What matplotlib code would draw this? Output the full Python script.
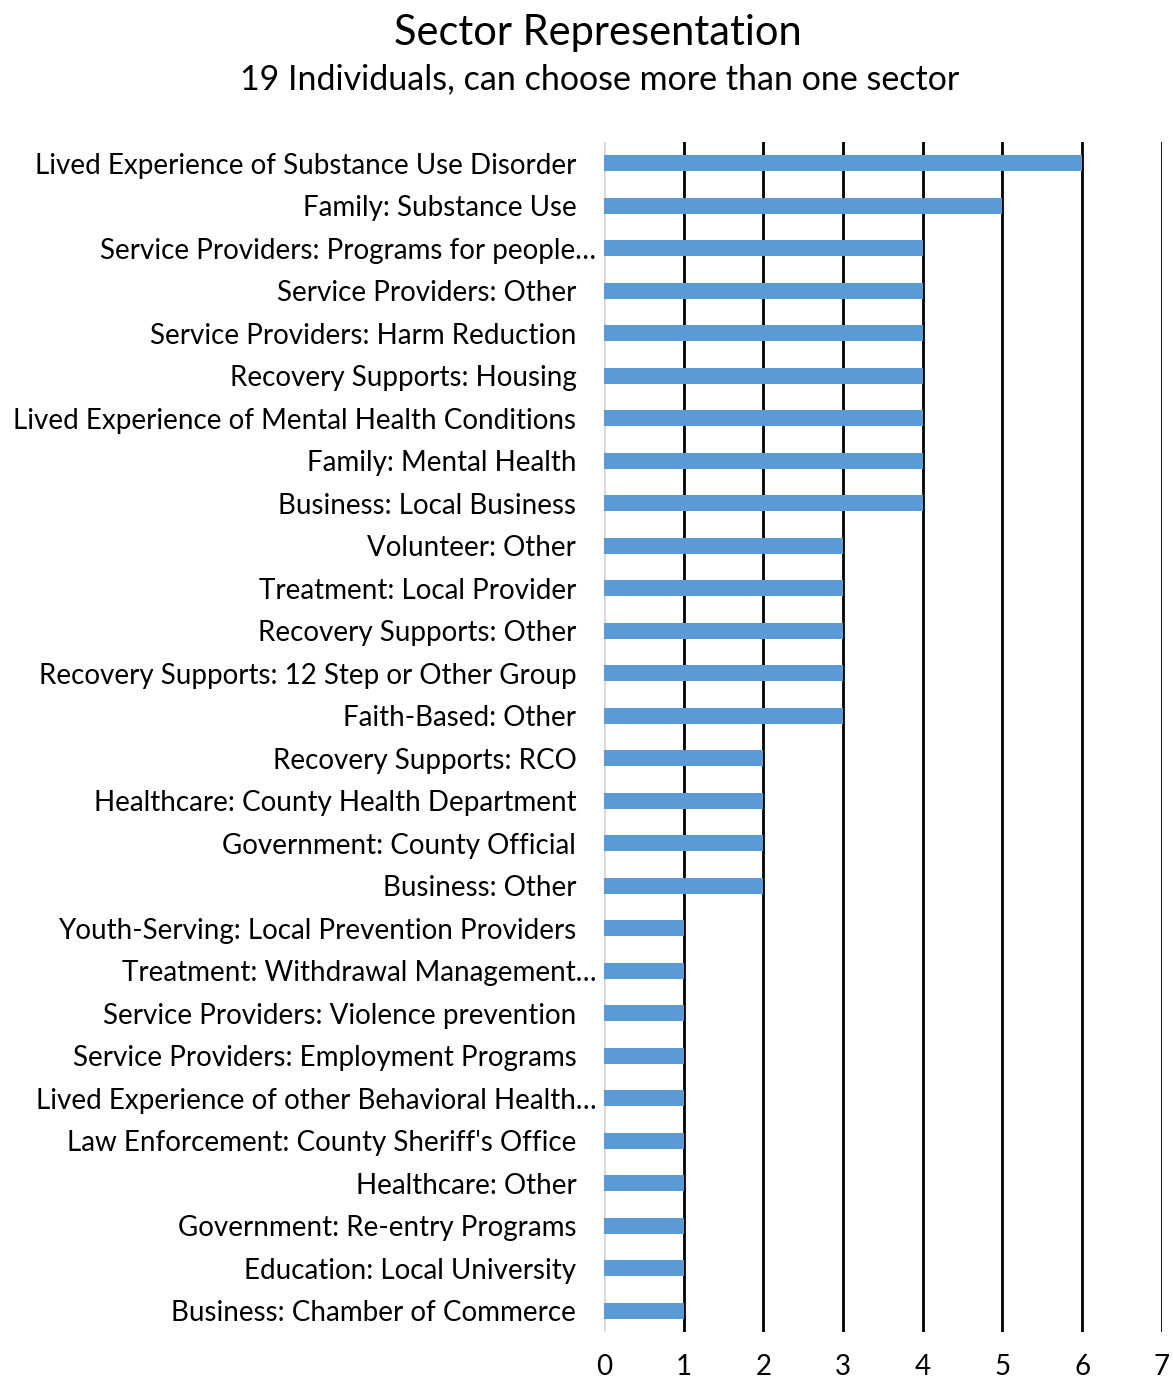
import numpy as np
import matplotlib.pyplot as plt
from matplotlib.transforms import ScaledTranslation

plt.rcParams['font.family'] = ['Lato', 'DejaVu Sans']

# Categorias de arriba hacia abajo
sectors = [
    'Lived Experience of Substance Use Disorder',
    'Family: Substance Use',
    'Service Providers: Programs for people\u2026',
    'Service Providers: Other',
    'Service Providers: Harm Reduction',
    'Recovery Supports: Housing',
    'Lived Experience of Mental Health Conditions',
    'Family: Mental Health',
    'Business: Local Business',
    'Volunteer: Other',
    'Treatment: Local Provider',
    'Recovery Supports: Other',
    'Recovery Supports: 12 Step or Other Group',
    'Faith-Based: Other',
    'Recovery Supports: RCO',
    'Healthcare: County Health Department',
    'Government: County Official',
    'Business: Other',
    'Youth-Serving: Local Prevention Providers',
    'Treatment: Withdrawal Management\u2026',
    'Service Providers: Violence prevention',
    'Service Providers: Employment Programs',
    'Lived Experience of other Behavioral Health\u2026',
    "Law Enforcement: County Sheriff's Office",
    'Healthcare: Other',
    'Government: Re-entry Programs',
    'Education: Local University',
    'Business: Chamber of Commerce',
]
counts = [6, 5, 4, 4, 4, 4, 4, 4, 4, 3, 3, 3, 3, 3, 2, 2, 2, 2,
          1, 1, 1, 1, 1, 1, 1, 1, 1, 1]
xticks = [0, 1, 2, 3, 4, 5, 6, 7]

fig = plt.figure(figsize=(11.73, 13.82), dpi=100)
ax = fig.add_axes([0.515, 0.0362, 0.4755, 0.861])

y = np.arange(len(sectors))[::-1]
ax.barh(y, counts, height=0.38, color='#5B9BD5', zorder=3)

ax.set_xlim(0, 7)
ax.set_ylim(-0.5, len(sectors) - 0.5)
ax.set_yticks(y)
ax.set_yticklabels(sectors, fontsize=20)
ax.set_xticks(xticks)
ax.set_xticklabels([str(t) for t in xticks], fontsize=20)
ax.tick_params(axis='both', length=0)
ax.tick_params(axis='y', pad=20)
ax.tick_params(axis='x', pad=16)

# las etiquetas truncadas quedan un poco mas a la derecha, como en Excel
for lab in ax.get_yticklabels():
    if lab.get_text().endswith('\u2026'):
        lab.set_transform(lab.get_transform() + ScaledTranslation(0.2, 0, fig.dpi_scale_trans))

for s in ax.spines.values():
    s.set_visible(False)
ax.axvline(0, color='#d9d9d9', linewidth=2, zorder=2)
for t in xticks[1:]:
    ax.axvline(t, color='black', linewidth=2, zorder=1)

fig.text(0.51, 0.976, 'Sector Representation', ha='center', va='center', fontsize=30)
fig.text(0.511, 0.943, '19 Individuals, can choose more than one sector',
         ha='center', va='center', fontsize=24.5)

fig.savefig('out.png', dpi=100)
plt.close(fig)
